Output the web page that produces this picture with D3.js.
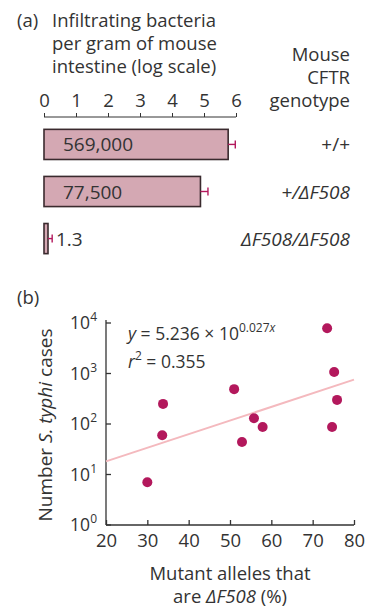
<!DOCTYPE html>
<html>
<head>
<meta charset="utf-8">
<script src="https://d3js.org/d3.v7.min.js"></script>
<style>
  body { margin: 0; background: #fff; }
  text { font-family: "Open Sans", "Noto Sans", sans-serif; fill: #333; }
</style>
</head>
<body>
<script>
// panel (a)
var genotypes = ["+/+", "+/\u0394F508", "\u0394F508/\u0394F508"];
var bacteria = [569000, 77500, 1.3];
var bacteriaLabels = ["569,000", "77,500", "1.3"];
var bacteriaUpper = [950000, 133000, 1.8];
var logTicks = [0, 1, 2, 3, 4, 5, 6];

// panel (b)
var mutantPct = [30, 33.6, 33.8, 51, 52.9, 55.8, 57.9, 73.5, 75.2, 75.9, 74.7];
var typhiCases = [7, 60, 250, 490, 44, 130, 87, 7900, 1070, 300, 87];
var fitA = 5.236, fitB = 0.027;
var xTicks = [20, 30, 40, 50, 60, 70, 80];
var yExps = [0, 1, 2, 3, 4];

var width = 376, height = 610;
var svg = d3.select("body").append("svg")
  .attr("width", width).attr("height", height);

var ink = "#333";
var magenta = "#b3185c";
var fs = 18.5;

// ---------- (a) ----------
var xa = d3.scaleLinear().domain([0, 6]).range([44, 236]);
var ya = d3.scaleBand().domain(genotypes).range([127, 256]).paddingInner(0.36).paddingOuter(0.05);

var title = svg.append("g").attr("font-size", fs);
title.append("text").attr("x", 17).attr("y", 27).text("(a)");
["Infiltrating bacteria", "per gram of mouse", "intestine (log scale)"].forEach(function(t, i) {
  title.append("text").attr("x", 52).attr("y", 27 + i * 23).text(t);
});
["Mouse", "CFTR", "genotype"].forEach(function(t, i) {
  title.append("text").attr("x", 350).attr("y", 61 + i * 23)
    .attr("text-anchor", "end").text(t);
});

var axA = svg.append("g").attr("transform", "translate(0,117)")
  .call(d3.axisTop(xa).tickValues(logTicks).tickFormat(d3.format("d")).tickSize(4).tickPadding(6));
axA.select(".domain").attr("stroke", ink).attr("d", "M44,0H236");
axA.selectAll(".tick line").attr("stroke", ink).attr("y2", -4);
axA.selectAll(".tick text").attr("font-size", fs).attr("fill", ink)
  .style("font-family", "'Open Sans', 'Noto Sans', sans-serif");

var bars = svg.append("g");
bars.selectAll("rect").data(bacteria).enter().append("rect")
  .attr("x", xa(0))
  .attr("y", function(d, i) { return ya(genotypes[i]); })
  .attr("width", function(d) { return Math.max(xa(Math.log10(d)) - xa(0), 4); })
  .attr("height", ya.bandwidth())
  .attr("fill", "#d4a8b3").attr("stroke", "#3a2a2e").attr("stroke-width", 1.6);

var errs = svg.append("g").attr("stroke", magenta).attr("stroke-width", 1.4);
bacteria.forEach(function(d, i) {
  var cy = ya(genotypes[i]) + ya.bandwidth() / 2;
  var x0 = Math.max(xa(Math.log10(d)), xa(0) + 4);
  var x1 = xa(Math.log10(bacteriaUpper[i]));
  errs.append("line").attr("x1", x0).attr("x2", x1).attr("y1", cy).attr("y2", cy);
  errs.append("line").attr("x1", x1).attr("x2", x1).attr("y1", cy - 4).attr("y2", cy + 4);
});

bacteriaLabels.forEach(function(t, i) {
  var cy = ya(genotypes[i]) + ya.bandwidth() / 2;
  var inside = i < 2;
  svg.append("text").attr("font-size", fs + 0.5)
    .attr("x", inside ? 63 : 56).attr("y", cy + 7).text(t);
  svg.append("text").attr("font-size", fs + 0.5).attr("text-anchor", "end")
    .attr("x", 350).attr("y", cy + 7)
    .attr("font-style", i === 0 ? "normal" : "italic")
    .text(genotypes[i]);
});

// ---------- (b) ----------
var xb = d3.scaleLinear().domain([20, 80]).range([106, 354]);
var yb = d3.scaleLog().domain([1, 10000]).range([525, 323]);

svg.append("text").attr("x", 17).attr("y", 304).attr("font-size", fs).text("(b)");

var axX = svg.append("g").attr("transform", "translate(0,525)")
  .call(d3.axisBottom(xb).tickValues(xTicks).tickSize(5).tickPadding(4));
axX.select(".domain").attr("stroke", ink).attr("stroke-width", 1.3).attr("d", "M106,0H354");
axX.selectAll(".tick line").attr("stroke", ink).attr("stroke-width", 1.3).attr("y1", -5).attr("y2", 0);
axX.selectAll(".tick text").attr("font-size", fs).attr("fill", ink)
  .style("font-family", "'Open Sans', 'Noto Sans', sans-serif");

var axY = svg.append("g").attr("transform", "translate(106,0)");
axY.append("line").attr("x1", 0).attr("x2", 0).attr("y1", yb(10000) - 3).attr("y2", yb(1))
  .attr("stroke", ink).attr("stroke-width", 1.3);
yExps.forEach(function(e) {
  var y = yb(Math.pow(10, e));
  axY.append("line").attr("x1", 0).attr("x2", 5).attr("y1", y).attr("y2", y)
    .attr("stroke", ink).attr("stroke-width", 1.3);
  var t = axY.append("text").attr("x", -9).attr("y", y + 6).attr("text-anchor", "end").attr("font-size", 17.5);
  t.append("tspan").text("10");
  t.append("tspan").attr("dy", -8).attr("font-size", 12).text(e);
});

// fit line
svg.append("line")
  .attr("x1", xb(20)).attr("y1", yb(fitA * Math.pow(10, fitB * 20)))
  .attr("x2", xb(80)).attr("y2", yb(fitA * Math.pow(10, fitB * 80)))
  .attr("stroke", "#f4b9be").attr("stroke-width", 2);

svg.append("g").selectAll("circle").data(mutantPct).enter().append("circle")
  .attr("cx", function(d) { return xb(d); })
  .attr("cy", function(d, i) { return yb(typhiCases[i]); })
  .attr("r", 5).attr("fill", magenta);

// equation
var eq = svg.append("text").attr("x", 128).attr("y", 340).attr("font-size", 17.5);
eq.append("tspan").attr("font-style", "italic").text("y");
eq.append("tspan").text(" = 5.236 \u00d7 10");
eq.append("tspan").attr("dy", -8).attr("font-size", 12).text("0.027");
eq.append("tspan").attr("font-size", 12).attr("font-style", "italic").text("x");
var r2 = svg.append("text").attr("x", 128).attr("y", 368).attr("font-size", 17.5);
r2.append("tspan").attr("font-style", "italic").text("r");
r2.append("tspan").attr("dy", -8).attr("font-size", 12).text("2");
r2.append("tspan").attr("dy", 8).text(" = 0.355");

// y label
var yl = svg.append("text").attr("transform", "translate(52,425) rotate(-90)")
  .attr("text-anchor", "middle").attr("font-size", fs + 0.5);
yl.append("tspan").text("Number ");
yl.append("tspan").attr("font-style", "italic").text("S. typhi");
yl.append("tspan").text(" cases");

// x label
svg.append("text").attr("x", 230).attr("y", 580).attr("text-anchor", "middle")
  .attr("font-size", fs).text("Mutant alleles that");
var xl = svg.append("text").attr("x", 230).attr("y", 603).attr("text-anchor", "middle").attr("font-size", fs);
xl.append("tspan").text("are ");
xl.append("tspan").attr("font-style", "italic").text("\u0394F508");
xl.append("tspan").text(" (%)");
</script>
</body>
</html>
